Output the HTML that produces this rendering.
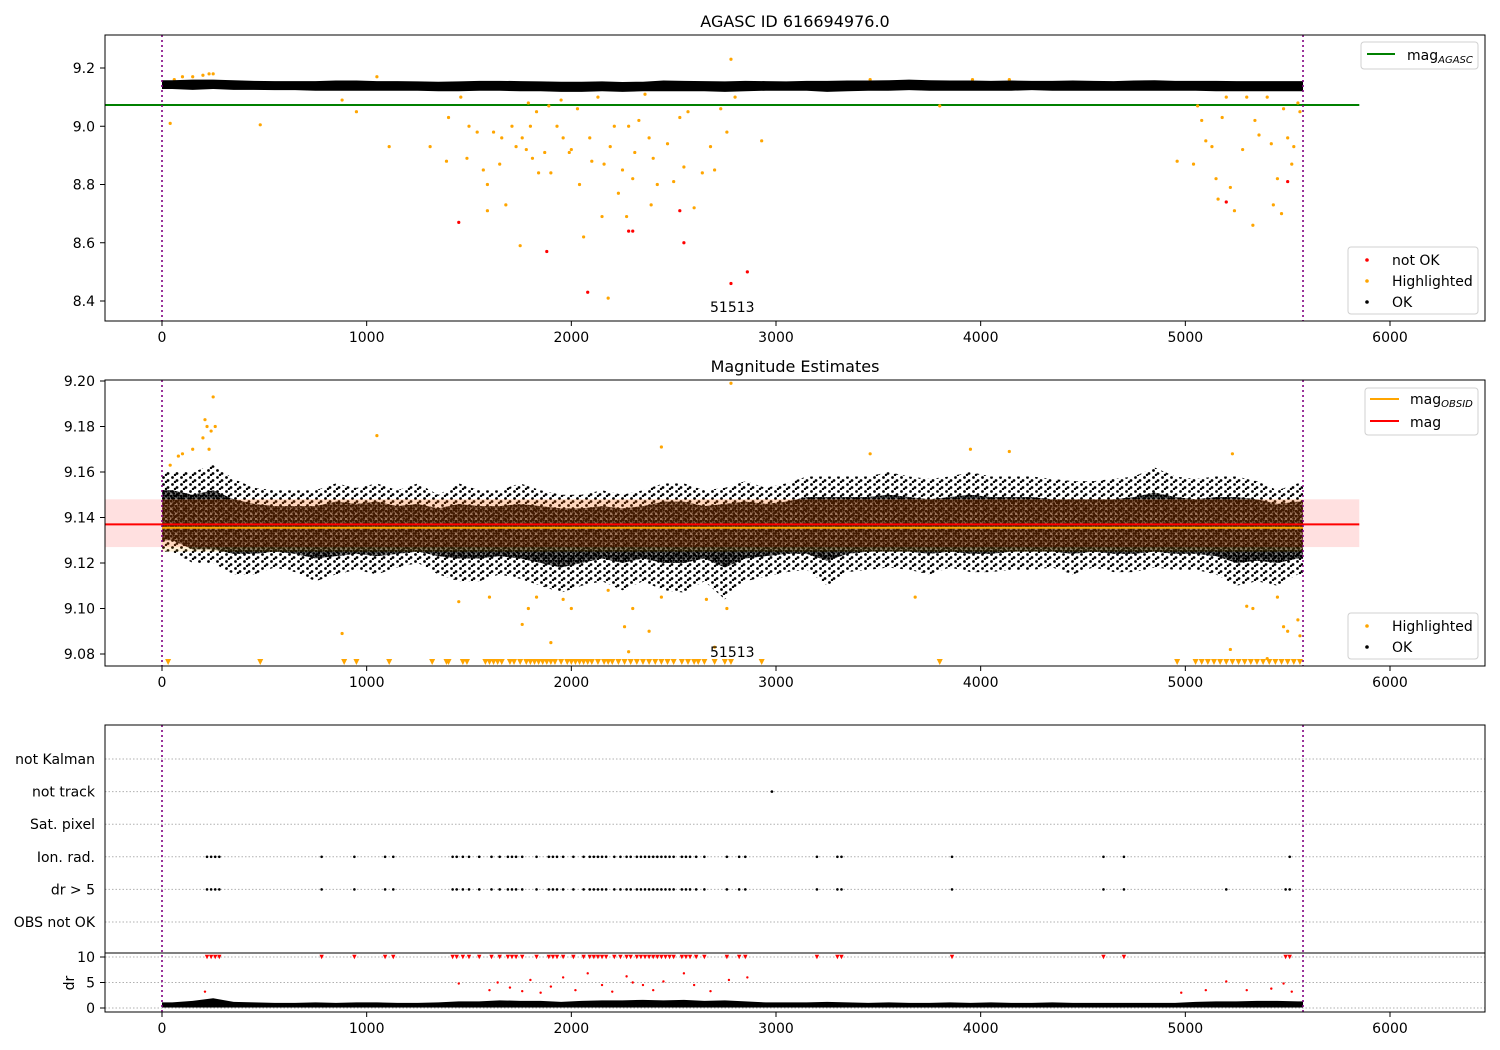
<!DOCTYPE html>
<html><head><meta charset="utf-8"><style>
body{margin:0;background:#fff}
svg{display:block;font-family:"DejaVu Sans","Liberation Sans",sans-serif}
</style></head><body>
<svg id="chart" width="1500" height="1050" viewBox="0 0 1500 1050" xmlns="http://www.w3.org/2000/svg">
<defs>
<pattern id="sparse" width="9" height="7" patternUnits="userSpaceOnUse"><circle cx="1.5" cy="1.5" r="1.4" fill="#000"/><circle cx="6" cy="4.5" r="1.4" fill="#000"/><circle cx="4" cy="6" r="1.2" fill="#000"/></pattern>
<pattern id="dense" width="5" height="5" patternUnits="userSpaceOnUse"><rect width="5" height="5" fill="#000" opacity="0.5"/><circle cx="1.2" cy="1.2" r="1.4" fill="#000"/><circle cx="3.7" cy="3.5" r="1.4" fill="#000"/><circle cx="3.8" cy="0.8" r="1" fill="#000"/></pattern>
</defs>
<g id="layer"></g>
</svg>
<script>
// ---------- data ----------
const binStart = [0,100,200,300,400,500,600,700,800,900,1000,1100,1200,1300,1400,1500,1600,1700,1800,1900,2000,2100,2200,2300,2400,2500,2600,2700,2800,2900,3000,3100,3200,3300,3400,3500,3600,3700,3800,3900,4000,4100,4200,4300,4400,4500,4600,4700,4800,4900,5000,5100,5200,5300,5400,5500];
const agascLo = [9.128,9.125,9.128,9.125,9.125,9.124,9.124,9.122,9.122,9.122,9.122,9.122,9.122,9.12,9.12,9.122,9.122,9.12,9.12,9.118,9.118,9.12,9.118,9.12,9.12,9.12,9.12,9.118,9.12,9.122,9.122,9.122,9.118,9.12,9.122,9.122,9.124,9.122,9.122,9.122,9.122,9.122,9.124,9.122,9.122,9.122,9.122,9.122,9.122,9.122,9.122,9.12,9.12,9.12,9.12,9.12];
const agascHi = [9.158,9.16,9.16,9.158,9.156,9.155,9.155,9.155,9.157,9.157,9.155,9.155,9.154,9.153,9.154,9.156,9.156,9.155,9.154,9.153,9.153,9.154,9.152,9.153,9.157,9.156,9.155,9.154,9.156,9.155,9.154,9.156,9.156,9.157,9.157,9.158,9.16,9.158,9.157,9.157,9.156,9.157,9.156,9.156,9.157,9.156,9.155,9.157,9.158,9.156,9.156,9.156,9.155,9.155,9.155,9.155];
const okLo = [9.125,9.12,9.12,9.115,9.115,9.118,9.116,9.112,9.115,9.117,9.115,9.118,9.12,9.115,9.112,9.112,9.115,9.113,9.11,9.107,9.11,9.112,9.108,9.112,9.108,9.107,9.112,9.104,9.112,9.114,9.116,9.117,9.11,9.116,9.117,9.118,9.117,9.115,9.118,9.116,9.116,9.117,9.117,9.118,9.115,9.118,9.116,9.116,9.118,9.117,9.117,9.115,9.11,9.112,9.11,9.115];
const okHi = [9.16,9.16,9.163,9.157,9.153,9.152,9.152,9.152,9.155,9.153,9.155,9.152,9.155,9.15,9.155,9.152,9.152,9.155,9.152,9.15,9.15,9.152,9.15,9.152,9.155,9.155,9.152,9.153,9.156,9.153,9.155,9.158,9.158,9.158,9.158,9.16,9.158,9.157,9.158,9.16,9.158,9.158,9.158,9.157,9.156,9.156,9.157,9.158,9.162,9.158,9.157,9.158,9.158,9.156,9.152,9.155];
const coreLo = [9.13,9.126,9.126,9.124,9.124,9.125,9.124,9.122,9.123,9.124,9.123,9.124,9.125,9.123,9.122,9.122,9.123,9.122,9.12,9.118,9.12,9.122,9.12,9.122,9.12,9.12,9.122,9.118,9.122,9.123,9.124,9.124,9.121,9.124,9.125,9.125,9.125,9.124,9.125,9.124,9.124,9.125,9.125,9.125,9.124,9.125,9.124,9.124,9.125,9.124,9.124,9.123,9.12,9.121,9.12,9.122];
const coreHi = [9.152,9.15,9.152,9.148,9.146,9.145,9.145,9.145,9.147,9.146,9.147,9.145,9.146,9.144,9.146,9.145,9.145,9.146,9.145,9.144,9.144,9.145,9.144,9.145,9.147,9.147,9.145,9.146,9.147,9.146,9.147,9.149,9.149,9.149,9.149,9.15,9.149,9.148,9.149,9.15,9.149,9.149,9.149,9.148,9.148,9.148,9.148,9.149,9.151,9.149,9.148,9.149,9.149,9.148,9.146,9.147];
const drHi = [1.1,1.4,1.9,1.2,1.1,1.0,1.0,1.1,1.0,1.1,1.1,1.0,1.0,1.1,1.3,1.3,1.5,1.4,1.4,1.2,1.4,1.5,1.5,1.6,1.5,1.6,1.4,1.5,1.3,1.1,1.1,1.1,1.2,1.1,1.0,1.1,1.0,1.0,1.1,1.0,1.1,1.0,1.0,1.1,1.0,1.0,1.0,1.0,1.0,1.0,1.2,1.3,1.3,1.4,1.4,1.3];
const hlX1 = [40,60,100,150,200,230,250,480,880,950,1050,1110,1310,1390,1400,1460,1490,1500,1540,1570,1590,1590,1620,1650,1660,1680,1710,1730,1750,1760,1780,1790,1800,1810,1830,1840,1870,1890,1900,1930,1950,1960,1990,2000,2030,2040,2060,2090,2100,2130,2150,2160,2180,2190,2210,2230,2250,2270,2280,2300,2310,2330,2360,2380,2390,2400,2420,2440,2470,2500,2530,2550,2570,2600,2640,2680,2700,2730,2760,2780,2800,2930,3460,3800,3960,4140,4960,5040,5060,5080,5100,5130,5150,5160,5180,5200,5220,5240,5280,5300,5330,5340,5360,5400,5420,5430,5450,5470,5480,5500,5520,5530,5550,5560];
const hlY1 = [9.01,9.16,9.17,9.17,9.175,9.18,9.18,9.005,9.09,9.05,9.17,8.93,8.93,8.88,9.03,9.1,8.89,9.0,8.98,8.85,8.8,8.71,8.98,8.87,8.96,8.73,9.0,8.93,8.59,8.96,8.92,9.08,9.0,8.89,9.05,8.84,8.91,9.07,8.84,9.0,9.09,8.96,8.91,8.92,9.06,8.8,8.62,8.96,8.88,9.1,8.69,8.87,8.41,8.93,9.0,8.77,8.85,8.69,9.0,8.82,8.91,9.02,9.11,8.96,8.73,8.89,8.8,9.15,8.94,8.81,9.03,8.86,9.05,8.72,8.84,8.93,8.85,9.06,8.98,9.23,9.1,8.95,9.16,9.07,9.16,9.16,8.88,8.87,9.07,9.02,8.95,8.93,8.82,8.75,9.03,9.1,8.79,8.71,8.92,9.1,8.66,9.02,8.97,9.1,8.94,8.73,8.82,8.7,9.06,8.96,8.87,8.93,9.08,9.05];
const badX1 = [1450,1880,2080,2280,2300,2530,2550,2780,2860,5200,5500];
const badY1 = [8.67,8.57,8.43,8.64,8.64,8.71,8.6,8.46,8.5,8.74,8.81];
const hlX2 = [40,80,100,150,200,210,220,230,240,250,260,1050,2440,3460,3950,4140,5230,880,1450,1600,1760,1790,1830,1900,1960,2000,2180,2260,2280,2300,2380,2440,2660,2700,2760,3680,5220,5300,5330,5400,5450,5480,5500,5550,5560,2780];
const hlY2 = [9.163,9.167,9.168,9.17,9.175,9.183,9.18,9.17,9.178,9.193,9.18,9.176,9.171,9.168,9.17,9.169,9.168,9.089,9.103,9.105,9.093,9.1,9.105,9.085,9.104,9.1,9.108,9.092,9.081,9.1,9.09,9.105,9.104,9.083,9.1,9.105,9.082,9.101,9.1,9.078,9.105,9.092,9.09,9.095,9.088,9.199];
const lowTriX = [30,480,890,950,1110,1320,1390,1400,1470,1490,1580,1600,1620,1640,1660,1700,1720,1750,1780,1800,1820,1840,1860,1880,1900,1920,1950,1980,2000,2020,2040,2060,2080,2100,2130,2160,2180,2200,2230,2260,2290,2320,2350,2380,2410,2440,2470,2500,2540,2570,2600,2620,2650,2700,2750,2780,2930,3800,4960,5050,5080,5110,5140,5170,5200,5230,5260,5290,5320,5350,5380,5410,5440,5470,5500,5530,5560];
const categories = ["not Kalman","not track","Sat. pixel","Ion. rad.","dr > 5","OBS not OK"];
const ionX = [220,240,260,280,780,940,1090,1130,1420,1440,1470,1500,1550,1610,1650,1690,1710,1730,1760,1830,1890,1910,1930,1960,2010,2060,2090,2110,2130,2150,2170,2210,2240,2270,2290,2320,2340,2360,2380,2400,2420,2440,2460,2480,2500,2540,2560,2580,2610,2650,2760,2820,2850,3200,3300,3320,3860,4600,4700,5510];
const drExtraX = [5200,5490];
const trackX = [2980];
const drRedX = [210,1450,1600,1640,1700,1760,1800,1850,1900,1960,2020,2080,2150,2200,2270,2300,2350,2400,2450,2550,2600,2680,2770,2860,4980,5100,5200,5300,5420,5480,5520];
const drRedY = [3.2,4.8,3.5,5,4,3.3,5.5,3,4.2,6,3.5,6.8,4.5,3.2,6.2,5,4.5,3.5,5.2,6.8,4.5,3.3,5.5,6,3,3.5,5.2,3.5,3.8,4.8,3.2];
const xTicks = [0,1000,2000,3000,4000,5000,6000];
const y1Ticks = [8.4,8.6,8.8,9.0,9.2];
const y2Ticks = [9.08,9.10,9.12,9.14,9.16,9.18,9.20];
const drTicks = [0,5,10];

// ---------- scales ----------
const X = v => 162 + v * 0.204667;
const Y1 = v => 68 + (9.2 - v) * 291.25;
const Y2 = v => 381 + (9.2 - v) * 2275;
const YD = v => 1008 - v * 5.1;
const catY = i => 759 + i * 32.6;
const L = document.getElementById('layer');
const NS = 'http://www.w3.org/2000/svg';
function mk(tag, attrs, name, parent) {
  const e = document.createElementNS(NS, tag);
  for (const k in attrs) e.setAttribute(k, attrs[k]);
  
  
  (parent || L).appendChild(e);
  return e;
}
function txt(x, y, s, name, opt) {
  const t = mk('text', Object.assign({x: x, y: y, 'font-size': 14, fill: '#000'}, opt || {}), name);
  t.textContent = s;
  return t;
}
function band(lo, hi, Y, name, fill) {
  const n = binStart.length;
  const cx = i => X(Math.min(binStart[i] + 50, 5575));
  let top = `${X(0)},${Y(hi[0])} `, bot = '';
  for (let i = 0; i < n; i++) {
    top += `${cx(i)},${Y(hi[i])} `;
    bot = `${cx(i)},${Y(lo[i])} ` + bot;
  }
  top += `${X(5575)},${Y(hi[n-1])} ${X(5575)},${Y(lo[n-1])} `;
  bot += `${X(0)},${Y(lo[0])}`;
  mk('polygon', {points: top + bot, fill: fill}, name);
}
function dot(x, y, r, c, name) { mk('circle', {cx: x, cy: y, r: r, fill: c}, name); }
function tri(x, y, c, s, name) { mk('polygon', {points: `${x-s},${y-s} ${x+s},${y-s} ${x},${y+s}`, fill: c}, name); }
function xaxis(yb, name) {
  xTicks.forEach(t => {
    mk('line', {x1: X(t), x2: X(t), y1: yb, y2: yb + 5, stroke: '#000'}, name + '-tick');
    txt(X(t), yb + 21, String(t), name + '-label', {'text-anchor': 'middle'});
  });
}
function frame(x, y, w, h, name) { mk('rect', {x: x, y: y, width: w, height: h, fill: 'none', stroke: '#000', 'stroke-width': 1}, name); }
function vlines(y0, y1) {
  [0, 5575].forEach(v => mk('line', {x1: X(v), x2: X(v), y1: y0, y2: y1, stroke: 'purple', 'stroke-width': 1.6, 'stroke-dasharray': '2,3'}, 'obs-boundary-line'));
}

// ---------- panel 1 ----------
txt(795, 27, 'AGASC ID 616694976.0', 'chart-title', {'text-anchor': 'middle', 'font-size': 16});
mk('line', {x1: 105, x2: X(5850), y1: Y1(9.073), y2: Y1(9.073), stroke: 'green', 'stroke-width': 2}, 'mag-agasc-line');
hlX1.forEach((v, i) => dot(X(v), Y1(hlY1[i]), 1.6, 'orange', 'highlighted-point'));
badX1.forEach((v, i) => dot(X(v), Y1(badY1[i]), 1.6, 'red', 'not-ok-point'));
band(agascLo, agascHi, Y1, 'ok-points-band', '#000');
vlines(35, 321);
txt(710, 312, '51513', 'obsid-label');
frame(105, 35, 1380, 286, 'panel1-frame');
y1Ticks.forEach(t => {
  mk('line', {x1: 100, x2: 105, y1: Y1(t), y2: Y1(t), stroke: '#000'}, 'y1-tick');
  txt(95, Y1(t) + 5, t.toFixed(1), 'y1-tick-label', {'text-anchor': 'end'});
});
xaxis(321, 'x1');

// ---------- panel 2 ----------
txt(795, 372, 'Magnitude Estimates', 'panel2-title', {'text-anchor': 'middle', 'font-size': 16});
band(okLo, okHi, Y2, 'ok-points-cloud', 'url(#sparse)');
band(coreLo, coreHi, Y2, 'ok-points-core', 'url(#dense)');
mk('rect', {x: 105, y: Y2(9.148), width: X(5850) - 105, height: Y2(9.127) - Y2(9.148), fill: 'red', opacity: 0.12}, 'mag-uncertainty-band');
mk('rect', {x: X(0), y: Y2(9.148), width: X(5575) - X(0), height: Y2(9.125) - Y2(9.148), fill: 'orange', opacity: 0.15}, 'obsid-uncertainty-band');
mk('line', {x1: X(0), x2: X(5575), y1: Y2(9.1355), y2: Y2(9.1355), stroke: 'orange', 'stroke-width': 2}, 'mag-obsid-line');
mk('line', {x1: 105, x2: X(5850), y1: Y2(9.137), y2: Y2(9.137), stroke: 'red', 'stroke-width': 2}, 'mag-line');
hlX2.forEach((v, i) => dot(X(v), Y2(hlY2[i]), 1.6, 'orange', 'highlighted-point'));
lowTriX.forEach(v => tri(X(v), 662, 'orange', 3, 'offscale-marker'));
vlines(380, 666);
txt(710, 657, '51513', 'obsid-label');
frame(105, 380, 1380, 286, 'panel2-frame');
y2Ticks.forEach(t => {
  mk('line', {x1: 100, x2: 105, y1: Y2(t), y2: Y2(t), stroke: '#000'}, 'y2-tick');
  txt(95, Y2(t) + 5, t.toFixed(2), 'y2-tick-label', {'text-anchor': 'end'});
});
xaxis(666, 'x2');

// ---------- panel 3 ----------
categories.forEach((c, i) => {
  mk('line', {x1: 105, x2: 1485, y1: catY(i), y2: catY(i), stroke: '#b0b0b0', 'stroke-dasharray': '1.5,2'}, 'flag-grid-line');
  txt(95, catY(i) + 5, c, 'flag-label', {'text-anchor': 'end'});
});
ionX.forEach(v => { dot(X(v), catY(3), 1.3, '#000', 'ion-rad-point'); dot(X(v), catY(4), 1.3, '#000', 'dr5-point'); });
drExtraX.forEach(v => dot(X(v), catY(4), 1.3, '#000', 'dr5-point'));
trackX.forEach(v => dot(X(v), catY(1), 1.3, '#000', 'not-track-point'));
drTicks.forEach(t => {
  mk('line', {x1: 105, x2: 1485, y1: YD(t), y2: YD(t), stroke: '#b0b0b0', 'stroke-dasharray': '1.5,2'}, 'dr-grid-line');
  mk('line', {x1: 100, x2: 105, y1: YD(t), y2: YD(t), stroke: '#000'}, 'dr-tick');
  txt(95, YD(t) + 5, String(t), 'dr-tick-label', {'text-anchor': 'end'});
});
ionX.concat(drExtraX.slice(1)).forEach(v => tri(X(v), YD(10), 'red', 2.2, 'dr-clipped-marker'));
drRedX.forEach((v, i) => dot(X(v), YD(drRedY[i]), 1.2, 'red', 'dr-outlier-point'));
const drLo = binStart.map(() => 0.1);
band(drLo, drHi, YD, 'dr-points-band', '#000');
vlines(725, 1012);
mk('line', {x1: 105, x2: 1485, y1: 953, y2: 953, stroke: '#000'}, 'dr-panel-divider');
mk('polyline', {points: '105,953 105,725 1485,725 1485,1012 105,1012 105,953', fill: 'none', stroke: '#000'}, 'panel3-frame');
txt(70, 983, 'dr', 'dr-axis-title', {'text-anchor': 'middle', transform: 'rotate(-90 70 983)', 'dominant-baseline': 'middle'});
xaxis(1012, 'x3');

// ---------- legends ----------
function legendBox(x, y, w, h, name) { mk('rect', {x: x, y: y, width: w, height: h, rx: 3, fill: '#fff', stroke: '#ccc', opacity: 0.9}, name); }
legendBox(1361, 42, 117, 27, 'legend-panel1-lines');
mk('line', {x1: 1367, x2: 1395, y1: 54, y2: 54, stroke: 'green', 'stroke-width': 2}, 'legend-agasc-swatch');
const t1 = txt(1407, 60, 'mag', 'legend-agasc-label'); const s1 = document.createElementNS(NS, 'tspan'); s1.setAttribute('font-size', 10); s1.setAttribute('font-style', 'italic'); s1.setAttribute('dy', 3); s1.textContent = 'AGASC'; t1.appendChild(s1);
legendBox(1348, 247, 130, 67, 'legend-panel1-points');
[['red', 'not OK'], ['orange', 'Highlighted'], ['#000', 'OK']].forEach((e, i) => {
  dot(1367, 260 + i * 21, 1.8, e[0], 'legend-swatch');
  txt(1392, 265 + i * 21, e[1], 'legend-label');
});
legendBox(1365, 388, 113, 47, 'legend-panel2-lines');
mk('line', {x1: 1370, x2: 1399, y1: 399, y2: 399, stroke: 'orange', 'stroke-width': 2}, 'legend-obsid-swatch');
const t2 = txt(1410, 404, 'mag', 'legend-obsid-label'); const s2 = document.createElementNS(NS, 'tspan'); s2.setAttribute('font-size', 10); s2.setAttribute('font-style', 'italic'); s2.setAttribute('dy', 3); s2.textContent = 'OBSID'; t2.appendChild(s2);
mk('line', {x1: 1370, x2: 1399, y1: 421, y2: 421, stroke: 'red', 'stroke-width': 2}, 'legend-mag-swatch');
txt(1410, 427, 'mag', 'legend-mag-label');
legendBox(1348, 613, 130, 46, 'legend-panel2-points');
[['orange', 'Highlighted'], ['#000', 'OK']].forEach((e, i) => {
  dot(1367, 626 + i * 21, 1.8, e[0], 'legend-swatch');
  txt(1392, 631 + i * 21, e[1], 'legend-label');
});
</script>
</body></html>
